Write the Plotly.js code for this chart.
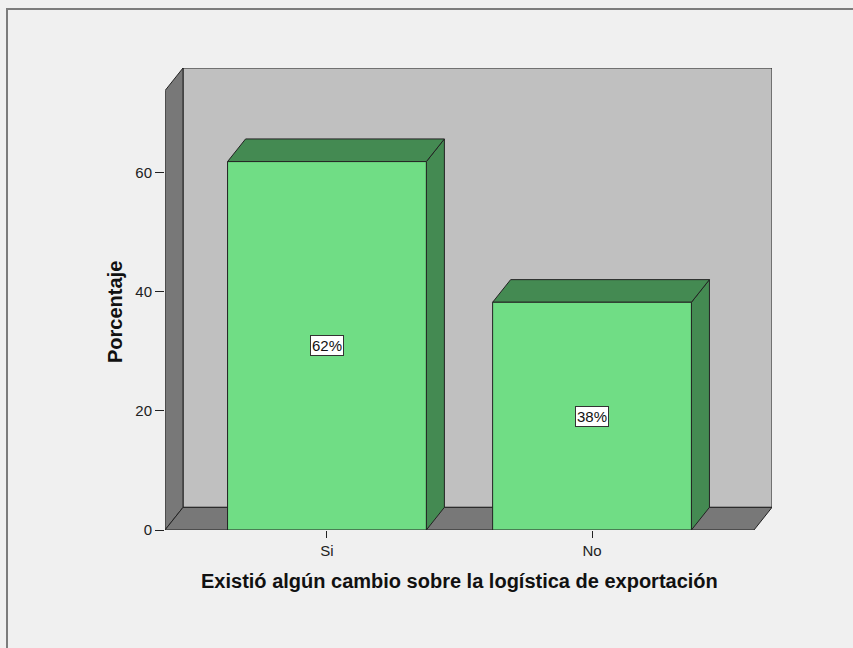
<!DOCTYPE html>
<html>
<head>
<meta charset="utf-8">
<script src="https://cdn.plot.ly/plotly-3.0.1.min.js"></script>
<style>html,body{margin:0;padding:0;background:#f0f0f0;}#chart{width:853px;height:648px;}</style>
</head>
<body>
<div id="chart"></div>
<script>
// ---- data ----
var categories = ['Si', 'No'];
var categoryPos = [0, 1];
var percentValues = [61.8, 38.2];
var yTickVals = [0, 20, 40, 60];
var yTickText = ['0', '20', '40', '60'];
var xTitle = 'Existió algún cambio sobre la logística de exportación';
var yTitle = 'Porcentaje';

// ---- style / geometry constants ----
var FRONT = '#70dd85', DARK = '#448a52', WALL = '#c0c0c0', SIDE = '#787878', EDGE = '#222222';
var FONT = 'Liberation Sans, Arial, sans-serif';
var BAR_W = 0.75;
var DX = 0.068;      // depth offset (x, category units)
var DY = 3.8;        // depth offset (y, value units)
var X_LEFT = -0.611, X_RIGHT = 1.611;
var Y_TOP = 73.7;
var ln = {color: EDGE, width: 1};

var shapes = [];
// back wall
shapes.push({type:'rect', xref:'x', yref:'y', layer:'below',
  x0:X_LEFT+DX, x1:X_RIGHT+DX, y0:DY, y1:Y_TOP+DY, fillcolor:WALL, line:ln});
// left wall
shapes.push({type:'path', xref:'x', yref:'y', layer:'below', fillcolor:SIDE, line:ln,
  path:'M'+X_LEFT+','+0+' L'+X_LEFT+','+Y_TOP+' L'+(X_LEFT+DX)+','+(Y_TOP+DY)+' L'+(X_LEFT+DX)+','+DY+' Z'});
// floor
shapes.push({type:'path', xref:'x', yref:'y', layer:'below', fillcolor:SIDE, line:ln,
  path:'M'+X_LEFT+',0 L'+(X_LEFT+DX)+','+DY+' L'+(X_RIGHT+DX)+','+DY+' L'+X_RIGHT+',0 Z'});
// bar tops and sides
categoryPos.forEach(function(c, i){
  var v = percentValues[i], l = c - BAR_W/2, r = c + BAR_W/2;
  shapes.push({type:'path', xref:'x', yref:'y', layer:'below', fillcolor:DARK, line:ln,
    path:'M'+r+',0 L'+(r+DX)+','+DY+' L'+(r+DX)+','+(v+DY)+' L'+r+','+v+' Z'});
  shapes.push({type:'path', xref:'x', yref:'y', layer:'below', fillcolor:DARK, line:ln,
    path:'M'+l+','+v+' L'+(l+DX)+','+(v+DY)+' L'+(r+DX)+','+(v+DY)+' L'+r+','+v+' Z'});
});
// outer frame
shapes.push({type:'rect', xref:'paper', yref:'paper', layer:'below',
  x0:(7-165)/607, x1:(870-165)/607, y0:(530-670)/462, y1:(530-9)/462,
  line:{color:'#7c7c7c', width:2}});

var annotations = categoryPos.map(function(c, i){
  return {x:c, y:percentValues[i]/2, xref:'x', yref:'y', showarrow:false,
    text: Math.round(percentValues[i]) + '%',
    bgcolor:'#ffffff', bordercolor:'#333333', borderwidth:1, borderpad:1,
    font:{family:FONT, size:15, color:'#111'}};
});
// axis titles, centred on the front plane of the 3-D frame
annotations.push({xref:'paper', yref:'paper', x:(459-165)/607, y:(530-581)/462,
  xanchor:'center', yanchor:'middle', showarrow:false, text:xTitle,
  font:{family:FONT, size:20, color:'#111', weight:'bold'}});
annotations.push({xref:'paper', yref:'paper', x:(115-165)/607, y:(530-312)/462,
  xanchor:'center', yanchor:'middle', showarrow:false, text:yTitle, textangle:-90,
  font:{family:FONT, size:20, color:'#111', weight:'bold'}});

var trace = {
  type:'bar', x:categoryPos, y:percentValues, width:BAR_W,
  marker:{color:FRONT, line:{color:EDGE, width:1}},
  hoverinfo:'skip'
};

var layout = {
  width:853, height:648,
  paper_bgcolor:'#f0f0f0', plot_bgcolor:'rgba(0,0,0,0)',
  margin:{l:165, r:81, t:68, b:118, autoexpand:false},
  showlegend:false,
  font:{family:FONT, size:15, color:'#222'},
  xaxis:{range:[X_LEFT, X_RIGHT+DX], tickvals:categoryPos, ticktext:categories,
    showgrid:false, zeroline:false, showline:false,
    ticks:'outside', ticklen:7, tickcolor:'#222', tickwidth:1,
    tickfont:{size:15, color:'#222'}},
  yaxis:{range:[0, Y_TOP+DY], tickvals:yTickVals, ticktext:yTickText,
    showgrid:false, zeroline:false, showline:false,
    ticks:'outside', ticklen:9, tickcolor:'#222', tickwidth:1,
    tickfont:{size:15, color:'#222'}},
  shapes:shapes,
  annotations:annotations
};

Plotly.newPlot('chart', [trace], layout, {displayModeBar:false, staticPlot:true});
</script>
</body>
</html>
